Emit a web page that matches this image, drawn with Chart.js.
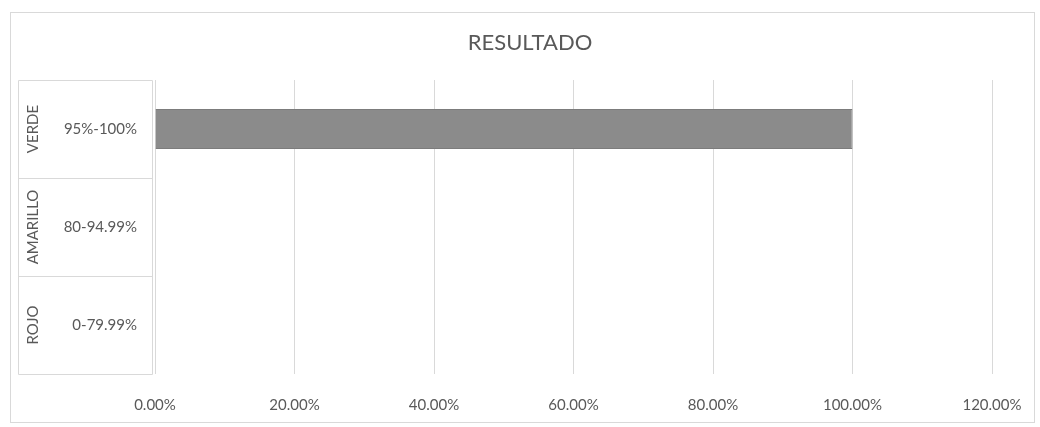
<!DOCTYPE html>
<html>
<head>
<meta charset="utf-8">
<script src="https://cdn.jsdelivr.net/npm/chart.js@4/dist/chart.umd.min.js"></script>
<style>
  html, body { margin: 0; background: #fff; }
  #wrap { width: 1040px; height: 427px; }
</style>
</head>
<body>
<div id="wrap"><canvas id="myChart"></canvas></div>
<script>
let groups = ["VERDE", "AMARILLO", "ROJO"];
let ranges = ["95%-100%", "80-94.99%", "0-79.99%"];
let result = [1.0, null, null];
let xTicks = [0, 0.2, 0.4, 0.6, 0.8, 1.0, 1.2];
let title = "RESULTADO";

let textColor = "#595959";
let lineColor = "#d9d9d9";
let fontName = "Lato, 'Open Sans', sans-serif";

// frame, title, the label table at the left and the rotated group names
const tablePlugin = {
    id: "table",
    beforeDraw(chart){
        const ctx = chart.ctx;
        ctx.save();
        ctx.strokeStyle = lineColor;
        ctx.lineWidth = 1;
        ctx.strokeRect(10.5, 12.5, 1024, 410);
        ctx.fillStyle = textColor;
        ctx.font = "22px " + fontName;
        ctx.textAlign = "center";
        ctx.textBaseline = "middle";
        ctx.fillText(title, 530, 43);
        ctx.restore();
    },
    afterDraw(chart){
        const ctx = chart.ctx;
        const a = chart.chartArea;
        const y = chart.scales.y;
        const band = (a.bottom - a.top) / groups.length;
        const left = 18.5, right = Math.round(a.left) - 2.5;
        ctx.save();
        ctx.strokeStyle = lineColor;
        ctx.lineWidth = 1;
        ctx.beginPath();
        for (let k = 0; k <= groups.length; k++){
            const yy = Math.round(a.top + k * band) + 0.5;
            ctx.moveTo(left, yy);
            ctx.lineTo(right, yy);
        }
        ctx.moveTo(left, Math.round(a.top) + 0.5);
        ctx.lineTo(left, Math.round(a.bottom) + 0.5);
        ctx.moveTo(right, Math.round(a.top) + 0.5);
        ctx.lineTo(right, Math.round(a.bottom) + 0.5);
        ctx.stroke();

        ctx.fillStyle = textColor;
        ctx.font = "15px " + fontName;
        ctx.textAlign = "center";
        ctx.textBaseline = "middle";
        for (let i = 0; i < groups.length; i++){
            const cy = y.getPixelForValue(i);
            ctx.save();
            ctx.translate(33, cy);
            ctx.rotate(-Math.PI / 2);
            ctx.fillText(groups[i], 0, 0);
            ctx.restore();
        }
        ctx.restore();
    }
};

let ctx = document.getElementById("myChart").getContext("2d");
let myChart = new Chart(ctx, {
    type: "bar",
    data: {
        labels: ranges,
        datasets: [{
            label: title,
            data: result,
            backgroundColor: "#8b8b8b",
            borderColor: "#7c7c7c",
            borderWidth: 1,
            categoryPercentage: 1,
            barPercentage: 0.41
        }]
    },
    options: {
        indexAxis: "y",
        responsive: true,
        maintainAspectRatio: false,
        animation: false,
        layout: {
            padding: { top: 80, left: 18, right: 48, bottom: 5 }
        },
        plugins: {
            legend: { display: false },
            tooltip: { enabled: false }
        },
        scales: {
            x: {
                min: 0,
                max: 1.2,
                afterBuildTicks: s => { s.ticks = xTicks.map(v => ({ value: v })); },
                grid: { color: lineColor, drawTicks: true, tickLength: 14, tickColor: "rgba(0,0,0,0)" },
                border: { display: false },
                ticks: {
                    color: textColor,
                    font: { family: fontName, size: 15 },
                    padding: 8,
                    callback: v => (v * 100).toFixed(2) + "%"
                }
            },
            y: {
                afterFit: s => { s.width = 137; },
                grid: { display: false, drawTicks: false },
                border: { display: false },
                ticks: {
                    color: textColor,
                    font: { family: fontName, size: 15 },
                    padding: 18
                }
            }
        }
    },
    plugins: [tablePlugin]
});
</script>
</body>
</html>
